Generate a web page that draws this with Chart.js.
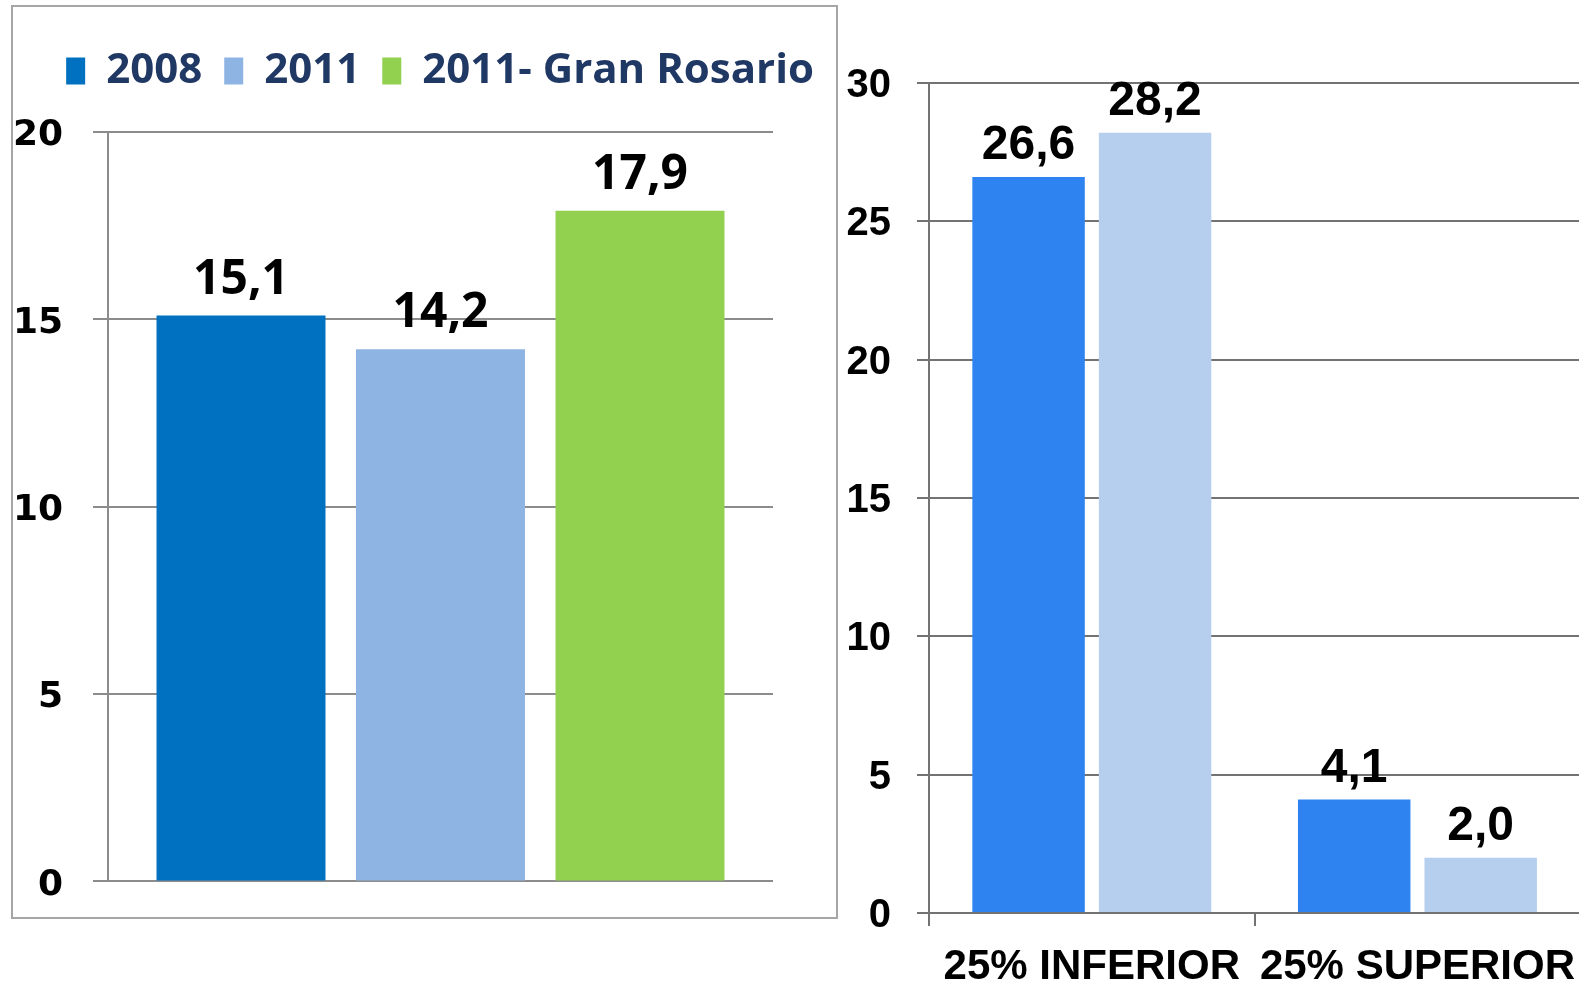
<!DOCTYPE html>
<html>
<head>
<meta charset="utf-8">
<script src="https://cdn.jsdelivr.net/npm/chart.js@4.4.1/dist/chart.umd.min.js"></script>
<style>
  html, body { margin: 0; padding: 0; background: #fff; }
  body { width: 1579px; height: 981px; position: relative; overflow: hidden; }
  #leftBox { position: absolute; left: 11px; top: 5px; width: 823px; height: 910px; border: 2px solid #a6a6a6; }
  #leftWrap { position: absolute; left: 0; top: 0; width: 823px; height: 926px; }
  #rightBox { position: absolute; left: 830px; top: 0; width: 761px; height: 981px; }
</style>
</head>
<body>
<div id="leftBox"><div id="leftWrap"><canvas id="leftChart"></canvas></div></div>
<div id="rightBox"><canvas id="rightChart"></canvas></div>
<script>
// left chart data
const leftSeries = ['2008', '2011', '2011- Gran Rosario'];
const leftValues = [15.1, 14.2, 17.9];
const leftColors = ['#0070c0', '#8eb4e3', '#92d050'];
const leftTicks = [0, 5, 10, 15, 20];

// right chart data
const rightCategories = ['25% INFERIOR', '25% SUPERIOR'];
const rightSeries = ['2008', '2011'];
const right2008 = [26.6, 4.1];
const right2011 = [28.2, 2.0];
const rightColors = ['#2e83f0', '#b7cfee'];
const rightTicks = [0, 5, 10, 15, 20, 25, 30];

const fmt = v => v.toFixed(1).replace('.', ',');

// draws the value over each bar
const valueLabels = {
  id: 'valueLabels',
  afterDatasetsDraw(chart, args, opts) {
    const ctx = chart.ctx;
    ctx.save();
    ctx.font = opts.font;
    ctx.fillStyle = '#000';
    ctx.textAlign = 'center';
    ctx.textBaseline = 'alphabetic';
    chart.data.datasets.forEach((ds, i) => {
      chart.getDatasetMeta(i).data.forEach((bar, j) => {
        ctx.fillText(fmt(ds.data[j]), bar.x, bar.y - opts.offset);
      });
    });
    ctx.restore();
  }
};

new Chart(document.getElementById('leftChart'), {
  type: 'bar',
  data: {
    labels: [''],
    datasets: leftSeries.map((name, i) => ({
      label: name,
      data: [leftValues[i]],
      backgroundColor: leftColors[i],
      categoryPercentage: 0.9,
      barPercentage: 0.847
    }))
  },
  options: {
    responsive: true,
    maintainAspectRatio: false,
    animation: false,
    layout: { padding: { left: 0, right: 0, top: 21, bottom: 0 } },
    plugins: {
      legend: {
        position: 'top',
        align: 'end',
        labels: {
          boxWidth: 19,
          boxHeight: 27,
          padding: 22,
          color: '#203864',
          font: { family: 'Open Sans', weight: 'bold', size: 42 }
        }
      },
      // empty subtitle used as a gap between legend and plot
      subtitle: {
        display: true,
        text: ' ',
        position: 'top',
        weight: 500,
        font: { size: 10 },
        padding: { top: 0, bottom: 18 }
      },
      tooltip: { enabled: false },
      valueLabels: { font: 'bold 48px "Open Sans"', offset: 22 }
    },
    scales: {
      x: { display: false },
      y: {
        min: 0, max: 20,
        afterBuildTicks: s => { s.ticks = leftTicks.map(v => ({ value: v })); },
        afterFit: s => { s.width = 95; },
        ticks: { color: '#000', padding: 30, labelOffset: 4, font: { family: 'DejaVu Sans', weight: 'bold', size: 36 } },
        grid: { color: '#8c8c8c', lineWidth: 2, tickLength: 15 },
        border: { color: '#8c8c8c', width: 2 }
      },
      yr: {
        position: 'right',
        afterFit: s => { s.width = 63; },
        ticks: { display: false },
        grid: { display: false },
        border: { display: false }
      }
    }
  },
  plugins: [valueLabels]
});

new Chart(document.getElementById('rightChart'), {
  type: 'bar',
  data: {
    labels: rightCategories,
    datasets: [
      { label: rightSeries[0], data: right2008, backgroundColor: rightColors[0] },
      { label: rightSeries[1], data: right2011, backgroundColor: rightColors[1] }
    ]
  },
  options: {
    responsive: true,
    maintainAspectRatio: false,
    animation: false,
    datasets: { bar: { categoryPercentage: 0.777, barPercentage: 0.889 } },
    layout: { padding: { left: 0, right: 0, top: 83, bottom: 0 } },
    plugins: {
      legend: { display: false },
      tooltip: { enabled: false },
      valueLabels: { font: 'bold 48px "Liberation Sans"', offset: 18 }
    },
    scales: {
      x: {
        afterFit: s => { s.height = 68; },
        ticks: { color: '#000', padding: 16, font: { family: 'Liberation Sans', weight: 'bold', size: 42 } },
        grid: { offset: true, drawOnChartArea: false, color: '#737373', lineWidth: 2, tickLength: 13 },
        border: { color: '#737373', width: 2 }
      },
      y: {
        min: 0, max: 30,
        afterBuildTicks: s => { s.ticks = rightTicks.map(v => ({ value: v })); },
        afterFit: s => { s.width = 99; },
        ticks: { color: '#000', padding: 26, labelOffset: 3, font: { family: 'Liberation Sans', weight: 'bold', size: 40 } },
        grid: { color: '#737373', lineWidth: 2, tickLength: 12 },
        border: { color: '#737373', width: 2 }
      }
    }
  },
  plugins: [valueLabels]
});
</script>
</body>
</html>
